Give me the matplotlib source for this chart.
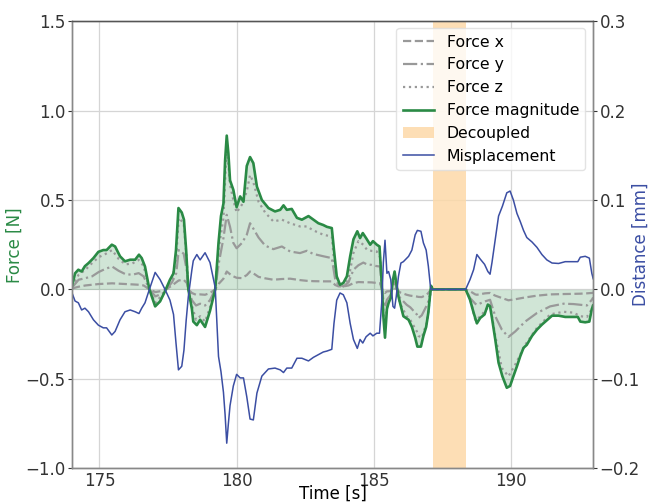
import numpy as np
import matplotlib
matplotlib.use("Agg")
import matplotlib.pyplot as plt

# ---------------- data ----------------
time_s = [174.00, 174.11, 174.23, 174.35, 174.47, 174.60, 174.78, 174.96, 175.14, 175.26,
          175.45, 175.57, 175.75, 175.93, 176.12, 176.30, 176.44, 176.54, 176.66, 176.82,
          177.03, 177.21, 177.39, 177.57, 177.70, 177.79, 177.88, 178.00, 178.08, 178.16,
          178.24, 178.37, 178.42, 178.55, 178.67, 178.85, 179.03, 179.22, 179.34, 179.43,
          179.52, 179.58, 179.64, 179.70, 179.76, 179.88, 180.00, 180.13, 180.25, 180.37,
          180.49, 180.61, 180.74, 180.92, 181.16, 181.40, 181.59, 181.71, 181.83, 182.01,
          182.20, 182.38, 182.62, 182.80, 182.98, 183.16, 183.29, 183.47, 183.55, 183.65,
          183.77, 183.89, 184.02, 184.14, 184.26, 184.40, 184.50, 184.60, 184.72, 184.87,
          184.97, 185.11, 185.21, 185.29, 185.35, 185.41, 185.48, 185.54, 185.62, 185.70,
          185.76, 185.82, 185.90, 185.99, 186.08, 186.27, 186.39, 186.51, 186.59, 186.72,
          186.81, 186.91, 186.99, 187.06, 187.09, 187.15, 188.35, 188.51, 188.64, 188.76,
          188.88, 189.04, 189.16, 189.24, 189.31, 189.43, 189.55, 189.69, 189.85, 189.97,
          190.09, 190.22, 190.34, 190.46, 190.58, 190.77, 190.95, 191.13, 191.31, 191.50,
          191.74, 191.98, 192.28, 192.44, 192.53, 192.71, 192.86, 192.95, 193.00]

force_mag = [0.02, 0.09, 0.11, 0.10, 0.13, 0.147, 0.175, 0.21, 0.22, 0.22,
             0.25, 0.24, 0.185, 0.157, 0.166, 0.166, 0.194, 0.175, 0.128, 0.0,
             -0.095, -0.067, -0.01, 0.054, 0.09, 0.22, 0.455, 0.43, 0.39, 0.22,
             0.0, -0.11, -0.18, -0.20, -0.17, -0.21, -0.12, 0.0, 0.26, 0.41,
             0.48, 0.72, 0.86, 0.76, 0.61, 0.557, 0.46, 0.52, 0.49, 0.69,
             0.74, 0.706, 0.575, 0.50, 0.455, 0.436, 0.445, 0.47, 0.445, 0.45,
             0.40, 0.39, 0.41, 0.39, 0.37, 0.36, 0.35, 0.343, 0.22, 0.073,
             0.026, 0.036, 0.073, 0.185, 0.28, 0.325, 0.287, 0.315, 0.287, 0.25,
             0.27, 0.25, 0.24, 0.036, -0.15, -0.27, -0.11, -0.076, -0.048, 0.054,
             0.10, 0.036, -0.04, -0.095, -0.15, -0.17, -0.21, -0.27, -0.32, -0.32,
             -0.26, -0.21, -0.13, -0.02, 0.02, 0.0, 0.0, -0.058, -0.13, -0.19,
             -0.16, -0.14, -0.085, -0.095, -0.16, -0.28, -0.41, -0.486, -0.55, -0.54,
             -0.486, -0.43, -0.374, -0.327, -0.31, -0.26, -0.225, -0.197, -0.173, -0.147,
             -0.147, -0.154, -0.154, -0.154, -0.18, -0.184, -0.18, -0.11, -0.09]

misplacement_mm = [-0.004, -0.013, -0.015, -0.023, -0.021, -0.025, -0.034, -0.040, -0.043, -0.043,
                   -0.051, -0.047, -0.034, -0.025, -0.023, -0.025, -0.027, -0.021, -0.015, 0.0,
                   0.019, 0.011, 0.0, -0.012, -0.028, -0.060, -0.090, -0.086, -0.068, -0.035,
                   -0.008, 0.022, 0.032, 0.039, 0.033, 0.041, 0.030, 0.002, -0.075, -0.092,
                   -0.115, -0.140, -0.172, -0.150, -0.130, -0.108, -0.095, -0.099, -0.099, -0.120,
                   -0.145, -0.146, -0.116, -0.097, -0.089, -0.088, -0.090, -0.093, -0.088, -0.088,
                   -0.077, -0.077, -0.080, -0.076, -0.073, -0.070, -0.069, -0.067, -0.038, -0.012,
                   -0.004, -0.006, -0.015, -0.038, -0.056, -0.066, -0.056, -0.060, -0.053, -0.049,
                   -0.052, -0.049, -0.049, -0.015, 0.030, 0.055, 0.018, 0.020, 0.011, -0.019,
                   -0.021, -0.008, 0.0145, 0.0295, 0.031, 0.037, 0.044, 0.061, 0.066, 0.065,
                   0.052, 0.044, 0.026, 0.005, 0.0, 0.0, 0.0, 0.011, 0.022, 0.039,
                   0.034, 0.028, 0.020, 0.017, 0.030, 0.056, 0.082, 0.093, 0.108, 0.110,
                   0.100, 0.085, 0.076, 0.066, 0.058, 0.053, 0.047, 0.039, 0.033, 0.0295,
                   0.029, 0.031, 0.031, 0.031, 0.036, 0.037, 0.035, 0.018, 0.012]

time_comp = [174.00, 174.24, 174.49, 174.73, 174.97, 175.22, 175.46, 175.70, 175.95, 176.20,
             176.43, 176.61, 176.82, 177.04, 177.34, 177.65, 177.80, 177.89, 178.07, 178.19,
             178.24, 178.37, 178.52, 178.67, 178.85, 179.03, 179.22, 179.34, 179.52, 179.64,
             179.76, 179.88, 180.00, 180.19, 180.37, 180.49, 180.61, 180.80, 181.04, 181.34,
             181.65, 181.95, 182.31, 182.56, 182.80, 183.17, 183.47, 183.59, 183.71, 183.90,
             184.08, 184.26, 184.44, 184.62, 184.75, 184.93, 185.11, 185.23, 185.29, 185.35,
             185.41, 185.48, 185.62, 185.70, 185.76, 185.82, 185.96, 186.20, 186.33, 186.57,
             186.63, 186.75, 186.93, 186.99, 187.09, 188.35, 188.51, 188.70, 188.76, 189.06,
             189.24, 189.43, 189.67, 189.91, 190.16, 190.52, 190.95, 191.43, 191.92, 192.28,
             192.53, 192.77, 192.95, 193.00]

force_x = [0.005, 0.015, 0.022, 0.026, 0.030, 0.032, 0.034, 0.032, 0.030, 0.028,
           0.026, 0.022, 0.0, -0.015, -0.007, 0.022, 0.040, 0.050, 0.054, 0.035,
           0.0, -0.020, -0.030, -0.028, -0.030, -0.020, 0.0, 0.030, 0.060, 0.100,
           0.085, 0.073, 0.065, 0.063, 0.080, 0.100, 0.090, 0.070, 0.062, 0.054,
           0.058, 0.060, 0.052, 0.048, 0.046, 0.045, 0.045, 0.025, 0.017, 0.017,
           0.022, 0.035, 0.041, 0.040, 0.040, 0.039, 0.036, 0.035, 0.005, -0.010,
           -0.020, -0.011, -0.010, 0.005, 0.008, 0.003, -0.017, -0.030, -0.035, -0.040,
           -0.042, -0.043, -0.030, -0.020, 0.0, 0.0, -0.010, -0.028, -0.030, -0.022,
           -0.020, -0.035, -0.048, -0.061, -0.055, -0.045, -0.035, -0.028, -0.026, -0.025,
           -0.024, -0.022, -0.020, -0.018]

force_y = [0.010, 0.054, 0.063, 0.073, 0.097, 0.115, 0.128, 0.104, 0.085, 0.082,
           0.091, 0.073, 0.0, -0.039, -0.020, 0.041, 0.091, 0.220, 0.200, 0.100,
           0.0, -0.060, -0.090, -0.080, -0.090, -0.060, 0.0, 0.138, 0.287, 0.417,
           0.350, 0.260, 0.230, 0.259, 0.305, 0.370, 0.340, 0.290, 0.245, 0.225,
           0.240, 0.212, 0.203, 0.216, 0.198, 0.185, 0.175, 0.060, 0.026, 0.017,
           0.040, 0.110, 0.135, 0.150, 0.140, 0.137, 0.130, 0.128, 0.020, -0.060,
           -0.100, -0.058, -0.030, 0.025, 0.040, 0.015, -0.048, -0.086, -0.100, -0.140,
           -0.160, -0.145, -0.090, -0.067, 0.0, 0.0, -0.048, -0.080, -0.086, -0.067,
           -0.058, -0.150, -0.225, -0.266, -0.235, -0.180, -0.132, -0.095, -0.080, -0.082,
           -0.086, -0.090, -0.058, -0.045]

force_z = [0.015, 0.082, 0.110, 0.147, 0.180, 0.198, 0.220, 0.170, 0.140, 0.145,
           0.165, 0.130, 0.0, -0.075, -0.020, 0.060, 0.180, 0.400, 0.370, 0.150,
           0.0, -0.090, -0.170, -0.150, -0.180, -0.100, 0.0, 0.220, 0.399, 0.810,
           0.585, 0.500, 0.430, 0.473, 0.548, 0.640, 0.600, 0.490, 0.430, 0.380,
           0.390, 0.370, 0.352, 0.352, 0.330, 0.305, 0.296, 0.100, 0.030, 0.017,
           0.060, 0.204, 0.270, 0.250, 0.222, 0.215, 0.212, 0.180, 0.030, -0.120,
           -0.220, -0.090, -0.040, 0.040, 0.080, 0.030, -0.080, -0.150, -0.170, -0.235,
           -0.260, -0.270, -0.188, -0.120, 0.0, 0.0, -0.050, -0.170, -0.170, -0.120,
           -0.085, -0.260, -0.440, -0.486, -0.420, -0.310, -0.215, -0.140, -0.125, -0.130,
           -0.150, -0.154, -0.110, -0.080]

decoupled = (187.15, 188.35)

# ---------------- plot ----------------
GREEN = "#2a8a45"
BLUE = "#3b4ea3"
GRAY = "#999999"

plt.rcParams["font.family"] = ["DejaVu Sans"]
plt.rcParams["font.size"] = 12

fig = plt.figure(figsize=(6.49, 5.04), dpi=100)
ax = fig.add_axes([0.111, 0.071, 0.803, 0.887])
ax2 = ax.twinx()

ax.set_axisbelow(True)
ax.grid(True, color="#d5d5d5", linewidth=0.9)

l_x, = ax.plot(time_comp, force_x, color=GRAY, ls="--", lw=1.6, label="Force x")
l_y, = ax.plot(time_comp, force_y, color=GRAY, ls="-.", lw=1.6, label="Force y")
l_z, = ax.plot(time_comp, force_z, color=GRAY, ls=":", lw=1.6, label="Force z")
l_m, = ax.plot(time_s, force_mag, color=GREEN, lw=1.9, label="Force magnitude")
ax.fill_between(time_s, force_mag, 0, color=GREEN, alpha=0.22, lw=0)
span = ax.axvspan(decoupled[0], decoupled[1], color="#fdd9a8", alpha=0.85, lw=0, label="Decoupled")

l_d, = ax2.plot(time_s, misplacement_mm, color=BLUE, lw=1.1, label="Misplacement")

ax.set_xlim(174, 193)
ax.set_ylim(-1.0, 1.5)
ax2.set_ylim(-0.2, 0.3)
ax.set_yticks([-1.0, -0.5, 0.0, 0.5, 1.0, 1.5])
ax2.set_yticks([-0.2, -0.1, 0.0, 0.1, 0.2, 0.3])
ax.set_xticks([175, 180, 185, 190])

ax.set_xlabel("Time [s]", labelpad=-3.5, fontsize=12)
ax.set_ylabel("Force [N]", color=GREEN, labelpad=1, fontsize=12)
ax2.set_ylabel("Distance [mm]", color=BLUE, labelpad=-5.5, fontsize=12)

for a in (ax, ax2):
    a.tick_params(axis="y", colors="#333333", length=3.0, width=0.8, pad=1.5)
    for s in a.spines.values():
        s.set_color("#888888")
        s.set_linewidth(1.0)
ax.tick_params(axis="x", colors="#333333", length=0, pad=2.5)
ax2.spines["top"].set_color("#555555")

handles = [l_x, l_y, l_z, l_m, span, l_d]
leg = ax2.legend(handles, [h.get_label() for h in handles], loc="upper right",
                 bbox_to_anchor=(0.985, 0.984), borderaxespad=0, framealpha=0.8,
                 edgecolor="#dddddd", handlelength=2.0, borderpad=0.4,
                 labelspacing=0.5, fontsize=11.3)

fig.savefig("out.png", dpi=100)
